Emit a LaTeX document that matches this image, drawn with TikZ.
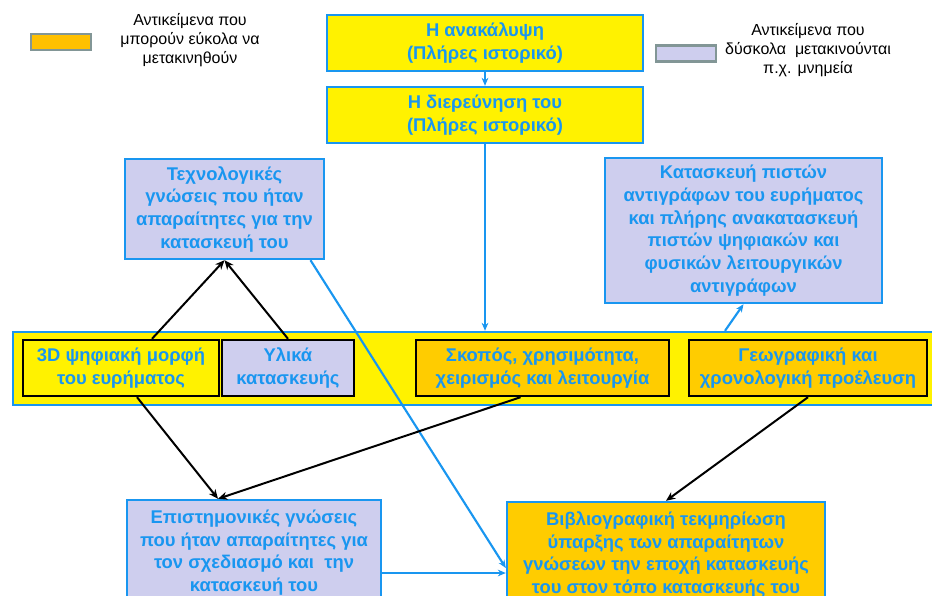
\documentclass[tikz,border=0pt]{standalone}
\usepackage{fontspec}
\setmainfont{Liberation Sans}
\usepackage{tikz}
\usetikzlibrary{calc,arrows.meta}

\definecolor{txtblue}{RGB}{25,150,240}
\definecolor{lilac}{RGB}{206,206,238}
\definecolor{amber}{RGB}{255,204,0}
\definecolor{legamber}{RGB}{255,192,0}
\definecolor{leggray}{RGB}{130,150,150}

\begin{document}
\begin{tikzpicture}[x=0.75pt, y=-0.75pt,
    every node/.style={align=center, inner sep=0pt, text=txtblue,
        font=\fontsize{13.8}{17}\selectfont\bfseries},
    yelbox/.style={draw=txtblue, line width=1.8pt, fill=yellow},
    lilbox/.style={draw=txtblue, line width=1.8pt, fill=lilac},
    orabox/.style={draw=txtblue, line width=1.8pt, fill=amber},
    inbox/.style={draw=black, line width=1.8pt},
    swatch/.style={draw=leggray, line width=2pt, minimum width=45pt, minimum height=12pt},
    legtext/.style={text=black, font=\fontsize{12}{14.5}\selectfont},
    bluearr/.style={draw=txtblue, line width=1.6pt, -{Stealth[length=6pt,width=5pt]}},
    blackarr/.style={draw=black, line width=1.5pt, -{Stealth[length=7pt,width=6pt]}}]

    \clip (0,0) rectangle (932,596);

    % Legend
    \node [swatch, fill=legamber] (legA) at (61,42) {};
    \node [legtext] (legAtxt) at (190,40) {Αντικείμενα που\\μπορούν εύκολα να\\μετακινηθούν};
    \node [swatch, fill=lilac] (legB) at (686,53.5) {};
    \node [legtext] (legBtxt) at (808,50) {Αντικείμενα που\\δύσκολα\ \ μετακινούνται\\π.χ. μνημεία};

    % Top
    \node [yelbox, minimum width=237pt, minimum height=42pt] (find) at (485,43) {Η ανακάλυψη\\(Πλήρες ιστορικό)};
    \node [yelbox, minimum width=237pt, minimum height=42pt] (study) at (485,115) {Η διερεύνηση του\\(Πλήρες ιστορικό)};

    \node [lilbox, minimum width=149.25pt, minimum height=75pt] (tech) at (224.5,209)
        {Τεχνολογικές\\γνώσεις που ήταν\\απαραίτητες για την\\κατασκευή του};
    \node [lilbox, minimum width=207.75pt, minimum height=108.75pt] (repl) at (743.5,230.5)
        {Κατασκευή πιστών\\αντιγράφων του ευρήματος\\και πλήρης ανακατασκευή\\πιστών ψηφιακών και\\φυσικών λειτουργικών\\αντιγράφων};

    % Middle strip
    \node [yelbox, minimum width=699pt, minimum height=54.75pt] (strip) at (479,368.5) {};
    \node [inbox, fill=yellow, minimum width=147pt, minimum height=42pt] (d3) at (121,368)
        {3D ψηφιακή μορφή\\του ευρήματος};
    \node [inbox, fill=lilac, minimum width=99pt, minimum height=42pt] (mat) at (288,368)
        {Υλικά\\κατασκευής};
    \node [inbox, fill=amber, minimum width=189.75pt, minimum height=42pt] (purp) at (542.5,368)
        {Σκοπός, χρησιμότητα,\\χειρισμός και λειτουργία};
    \node [inbox, fill=amber, minimum width=178.5pt, minimum height=42pt] (geo) at (808,368)
        {Γεωγραφική και\\χρονολογική προέλευση};

    % Bottom
    \node [lilbox, minimum width=190.5pt, minimum height=78.75pt] (sci) at (254,552.5)
        {Επιστημονικές γνώσεις\\που ήταν απαραίτητες για\\τον σχεδιασμό και\ \ την\\κατασκευή του};
    \node [orabox, minimum width=238.5pt, minimum height=78.75pt] (bib) at (666,554.5)
        {Βιβλιογραφική τεκμηρίωση\\ύπαρξης των απαραίτητων\\γνώσεων την εποχή κατασκευής\\του στον τόπο κατασκευής του};

    % Blue connectors
    \draw [bluearr] (find) -- (study);
    \draw [bluearr] (study.south) -- (study.south |- strip.north);
    \draw [bluearr] ($(strip.north)+(246,0)$) -- (repl.south);
    \draw [bluearr] ($(tech.south)+(86,0)$) -- ($(bib.west)+(0,13.5)$);
    \draw [bluearr] ($(sci.east)+(0,20.5)$) -- ($(bib.west)+(0,18.5)$);

    % Black connectors
    \draw [blackarr] ($(d3.north)+(31,0)$) -- (tech.south);
    \draw [blackarr] (mat.north) -- (tech.south);
    \draw [blackarr] ($(d3.south)+(16,0)$) -- ($(sci.north)+(-36,0)$);
    \draw [blackarr] ($(purp.south)+(-22,0)$) -- ($(sci.north)+(-36,0)$);
    \draw [blackarr] (geo.south) -- (bib.north);

\end{tikzpicture}
\end{document}
